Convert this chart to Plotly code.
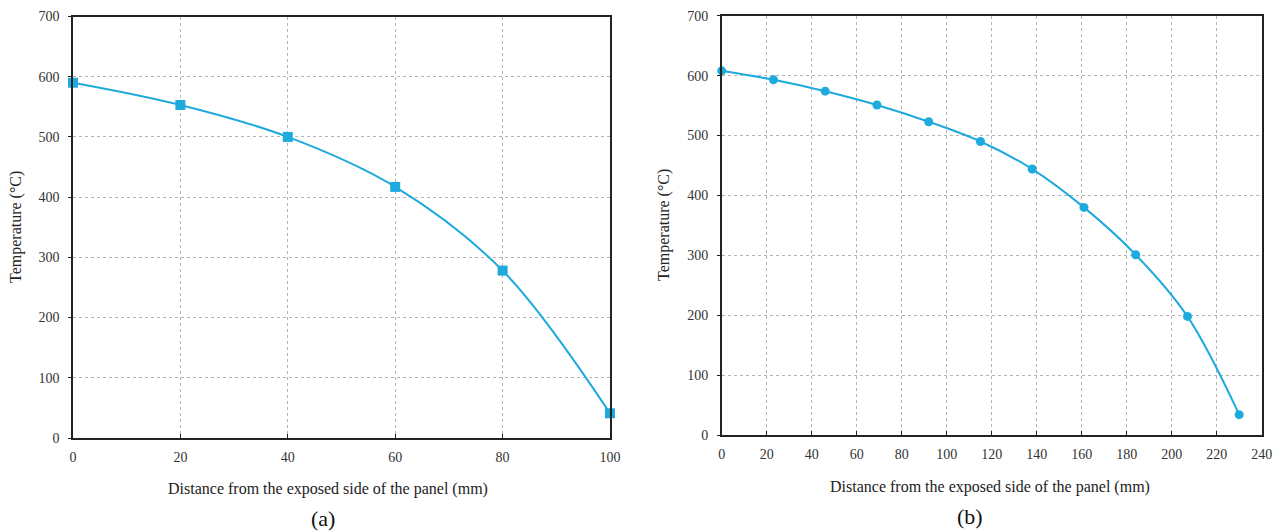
import plotly.graph_objects as go

# Panel (a): 100 mm panel
dist_a = [0, 20, 40, 60, 80, 100]
temp_a = [590, 553, 500, 417, 278, 41]

# Panel (b): 230 mm panel
dist_b = [0, 23, 46, 69, 92, 115, 138, 161, 184, 207, 230]
temp_b = [608, 593, 574, 551, 523, 490, 444, 380, 301, 198, 34]

x_ticks_a = [0, 20, 40, 60, 80, 100]
x_ticks_b = list(range(0, 241, 20))
y_ticks = [0, 100, 200, 300, 400, 500, 600, 700]

LINE = "#1EAADC"
FONT = "Liberation Serif, Times New Roman, serif"

fig = go.Figure()

fig.add_trace(go.Scatter(
    x=dist_a, y=temp_a, mode="lines+markers",
    line=dict(color=LINE, width=2, shape="spline", smoothing=1),
    marker=dict(symbol="square", size=10, color=LINE),
    xaxis="x", yaxis="y", showlegend=False, cliponaxis=False,
))
fig.add_trace(go.Scatter(
    x=dist_b, y=temp_b, mode="lines+markers",
    line=dict(color=LINE, width=2, shape="spline", smoothing=1),
    marker=dict(symbol="circle", size=9, color=LINE),
    xaxis="x2", yaxis="y2", showlegend=False, cliponaxis=False,
))

W, H = 1282, 532
tick_font = dict(family=FONT, size=14, color="#333333")

common_x = dict(
    showline=True, linecolor="#222222", linewidth=1.5, mirror=True,
    showgrid=True, gridcolor="#B5B5B5", gridwidth=1, griddash="dot",
    ticks="inside", ticklen=4, tickcolor="#222222",
    tickfont=tick_font, ticklabelstandoff=5, zeroline=False,
    fixedrange=True, automargin=False,
)
common_y = dict(
    showline=True, linecolor="#222222", linewidth=1.5, mirror=True,
    showgrid=True, gridcolor="#B5B5B5", gridwidth=1, griddash="dot",
    ticks="outside", ticklen=3, tickcolor="#222222",
    tickfont=tick_font, ticklabelstandoff=6, zeroline=False,
    range=[0, 700], tickvals=y_ticks, fixedrange=True, automargin=False,
)

fig.update_layout(
    width=W, height=H,
    margin=dict(l=0, r=0, t=0, b=0, pad=0),
    paper_bgcolor="white", plot_bgcolor="white",
    xaxis=dict(common_x, domain=[73 / W, 610 / W], range=[0, 100],
               tickvals=x_ticks_a, anchor="y"),
    yaxis=dict(common_y, domain=[1 - 438 / H, 1 - 16.5 / H], anchor="x"),
    xaxis2=dict(common_x, domain=[721.7 / W, 1261.7 / W], range=[0, 240],
                tickvals=x_ticks_b, anchor="y2"),
    yaxis2=dict(common_y, domain=[1 - 435 / H, 1 - 15.7 / H], anchor="x2"),
)

title_font = dict(family=FONT, size=16, color="#222222")
xlabel = "Distance from the exposed side of the panel (mm)"
ylabel = "Temperature (°C)"

annotations = [
    dict(text=xlabel, x=328 / W, y=1 - 489 / H, font=title_font),
    dict(text=xlabel, x=990 / W, y=1 - 487 / H, font=title_font),
    dict(text=ylabel, x=16 / W, y=1 - 227 / H, font=title_font, textangle=-90),
    dict(text=ylabel, x=664 / W, y=1 - 225 / H, font=title_font, textangle=-90),
    dict(text="(a)", x=323 / W, y=1 - 518 / H,
         font=dict(family=FONT, size=22, color="#111111")),
    dict(text="(b)", x=970 / W, y=1 - 516 / H,
         font=dict(family=FONT, size=22, color="#111111")),
]
for a in annotations:
    a.update(xref="paper", yref="paper", showarrow=False,
             xanchor="center", yanchor="middle")
fig.update_layout(annotations=annotations)

fig.write_html("out.html")
